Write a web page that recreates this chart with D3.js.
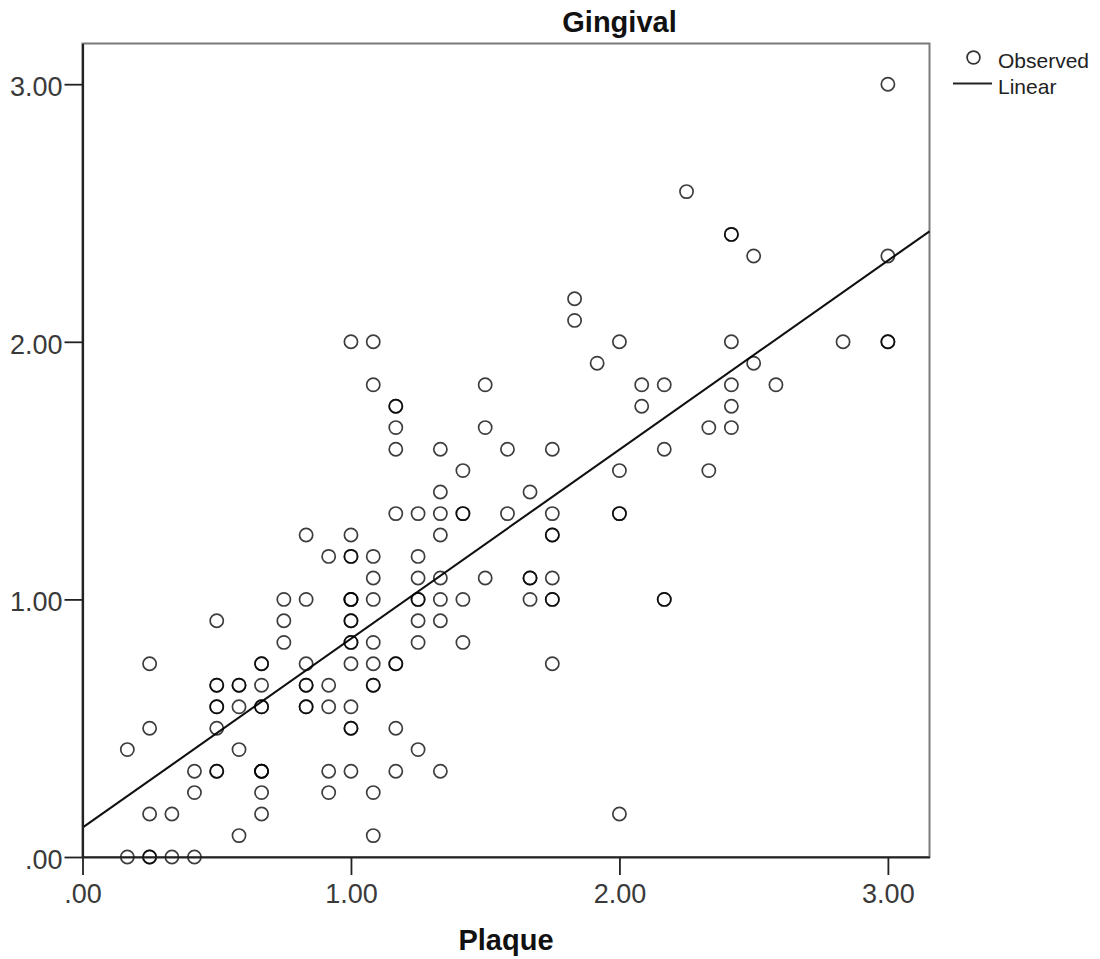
<!DOCTYPE html>
<html>
<head>
<meta charset="utf-8">
<script src="https://cdn.jsdelivr.net/npm/d3@7"></script>
<style>
  body { margin: 0; background: #fff; }
  svg text { font-family: "Liberation Sans", Arial, sans-serif; }
</style>
</head>
<body>
<div class="container"></div>
<script>
// values (scores are on a 1/12 grid)
var plaque = [
    .167, .25, .25, .333, .417,
    .583, 1.083,
    .25, .333, .667, 2,
    .417, .667, .917, 1.083,
    .417, .5, .5, .667, .667, .667, .917, 1, 1.167, 1.333,
    .167, .583, 1.25,
    .25, .5, 1, 1, 1.167,
    .5, .5, .583, .667, .667, .833, .833, .917, 1,
    .5, .5, .583, .583, .667, .833, .833, .917, 1.083, 1.083,
    .25, .667, .667, .833, 1, 1.083, 1.167, 1.167, 1.75,
    .75, 1, 1, 1.083, 1.25, 1.417,
    .5, .75, 1, 1, 1.25, 1.333,
    .75, .833, 1, 1, 1, 1.083, 1.25, 1.25, 1.333, 1.417, 1.667, 1.75, 1.75, 2.167, 2.167,
    1.083, 1.25, 1.333, 1.5, 1.667, 1.667, 1.75,
    .917, 1, 1, 1.083, 1.25,
    .833, 1, 1.333, 1.75, 1.75,
    1.167, 1.25, 1.333, 1.417, 1.417, 1.583, 1.75, 2, 2,
    1.333, 1.667,
    1.417, 2, 2.333,
    1.167, 1.333, 1.583, 1.75, 2.167,
    1.167, 1.5, 2.333, 2.417,
    1.167, 1.167, 2.083, 2.417,
    1.083, 1.5, 2.083, 2.167, 2.417, 2.583,
    1.917, 2.5,
    1, 1.083, 2, 2.417, 2.833, 3, 3,
    1.833,
    1.833,
    2.5, 3,
    2.417, 2.417,
    2.25,
    3
];
var gingival = [
    0, 0, 0, 0, 0,
    .083, .083,
    .167, .167, .167, .167,
    .25, .25, .25, .25,
    .333, .333, .333, .333, .333, .333, .333, .333, .333, .333,
    .417, .417, .417,
    .5, .5, .5, .5, .5,
    .583, .583, .583, .583, .583, .583, .583, .583, .583,
    .667, .667, .667, .667, .667, .667, .667, .667, .667, .667,
    .75, .75, .75, .75, .75, .75, .75, .75, .75,
    .833, .833, .833, .833, .833, .833,
    .917, .917, .917, .917, .917, .917,
    1, 1, 1, 1, 1, 1, 1, 1, 1, 1, 1, 1, 1, 1, 1,
    1.083, 1.083, 1.083, 1.083, 1.083, 1.083, 1.083,
    1.167, 1.167, 1.167, 1.167, 1.167,
    1.25, 1.25, 1.25, 1.25, 1.25,
    1.333, 1.333, 1.333, 1.333, 1.333, 1.333, 1.333, 1.333, 1.333,
    1.417, 1.417,
    1.5, 1.5, 1.5,
    1.583, 1.583, 1.583, 1.583, 1.583,
    1.667, 1.667, 1.667, 1.667,
    1.75, 1.75, 1.75, 1.75,
    1.833, 1.833, 1.833, 1.833, 1.833, 1.833,
    1.917, 1.917,
    2, 2, 2, 2, 2, 2, 2,
    2.083,
    2.167,
    2.333, 2.333,
    2.417, 2.417,
    2.583,
    3
];
var tickValues = [0, 1, 2, 3];
var legendLabels = ['Observed', 'Linear'];

var drawChart = function () {
    var fmt = function (d) { return d3.format('.2f')(d).replace(/^0\./, '.'); };

    var svg = d3.select('.container')
        .append('svg')
        .attr('width', 1100)
        .attr('height', 959);

    var x = d3.scaleLinear().domain([0, 3.155]).range([82.5, 929.5]);
    var y = d3.scaleLinear().domain([0, 3.158]).range([857, 43.5]);

    // plot frame
    svg.append('rect')
        .attr('x', x.range()[0])
        .attr('y', y.range()[1])
        .attr('width', x.range()[1] - x.range()[0])
        .attr('height', y.range()[0] - y.range()[1])
        .style('fill', 'none')
        .style('stroke', '#7a7a7a')
        .style('stroke-width', '2');

    // least squares line
    var mx = d3.mean(plaque), my = d3.mean(gingival);
    var sxy = d3.sum(plaque, function (d, i) { return (d - mx) * (gingival[i] - my); });
    var sxx = d3.sum(plaque, function (d) { return (d - mx) * (d - mx); });
    var slope = sxy / sxx, intercept = my - slope * mx;
    var xd = x.domain();

    svg.append('line')
        .attr('x1', x(xd[0]))
        .attr('y1', y(intercept + slope * xd[0]))
        .attr('x2', x(xd[1]))
        .attr('y2', y(intercept + slope * xd[1]))
        .style('stroke', '#111')
        .style('stroke-width', '2.1');

    svg.append('g')
        .selectAll('circle')
        .data(plaque)
        .enter()
        .append('circle')
        .attr('cx', function (d) { return x(d); })
        .attr('cy', function (d, i) { return y(gingival[i]); })
        .attr('r', 6.6)
        .style('fill', 'none')
        .style('stroke', '#000')
        .style('stroke-opacity', 0.76)
        .style('stroke-width', '1.7');

    // axes
    var gx = svg.append('g')
        .attr('transform', 'translate(0,' + y.range()[0] + ')')
        .call(d3.axisBottom(x).tickValues(tickValues).tickFormat(fmt).tickSize(18).tickSizeOuter(0).tickPadding(9));
    var gy = svg.append('g')
        .attr('transform', 'translate(' + x.range()[0] + ',0)')
        .call(d3.axisLeft(y).tickValues(tickValues).tickFormat(fmt).tickSize(18).tickSizeOuter(0).tickPadding(2));

    [gx, gy].forEach(function (g) {
        g.select('.domain').style('stroke', '#222').style('stroke-width', '2.2');
        g.selectAll('.tick line').style('stroke', '#222').style('stroke-width', '1.8');
        g.selectAll('.tick text')
            .style('font-size', '27px')
            .style('fill', '#3a3a3a')
            .style('font-family', '"Liberation Sans", Arial, sans-serif');
    });
    gy.selectAll('.tick text').attr('dy', '0.42em');

    // titles
    svg.append('text')
        .attr('x', 619.5)
        .attr('y', 32)
        .attr('text-anchor', 'middle')
        .style('font-size', '29px')
        .style('font-weight', 'bold')
        .style('fill', '#111')
        .text('Gingival');

    svg.append('text')
        .attr('x', (x.range()[0] + x.range()[1]) / 2)
        .attr('y', 950)
        .attr('text-anchor', 'middle')
        .style('font-size', '29px')
        .style('font-weight', 'bold')
        .style('fill', '#111')
        .text('Plaque');

    // legend
    var legend = svg.append('g');
    legend.append('circle')
        .attr('cx', 973.5)
        .attr('cy', 57.5)
        .attr('r', 6.4)
        .style('fill', 'none')
        .style('stroke', '#333')
        .style('stroke-width', '1.7');
    legend.append('line')
        .attr('x1', 953)
        .attr('x2', 992)
        .attr('y1', 83.5)
        .attr('y2', 83.5)
        .style('stroke', '#222')
        .style('stroke-width', '2');
    legend.selectAll('text')
        .data(legendLabels)
        .enter()
        .append('text')
        .attr('x', 998)
        .attr('y', function (d, i) { return 68 + i * 25.5; })
        .style('font-size', '21px')
        .style('fill', '#222')
        .text(function (d) { return d; });
};
window.onload = drawChart;
</script>
</body>
</html>
